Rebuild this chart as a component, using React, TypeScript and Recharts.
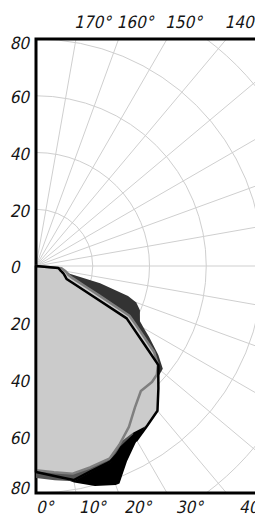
import React from 'react';
import { RadarChart, Radar, PolarGrid, PolarAngleAxis, PolarRadiusAxis } from 'recharts';

// ---- data (angle in degrees from the downward axis, radius in chart units) ----
const ANGLES = [0, 5, 10, 15, 20, 21, 25, 30, 35, 40, 45, 48, 51, 54, 58, 60, 62, 65, 67, 70, 72, 75, 77, 80, 85, 90];
const BLACK_FILL = [72.0, 74.0, 77.5, 80.3, 82.1, 82.1, 75.9, 71.0, 68.0, 66.0, 60.5, 57.5, 55.0, 47.0, 39.5, 36.5, 22.5, 14.4, 11.5, 10.8, 10.4, 9.8, 9.2, 8.5, 7.7, 0];
const DARK_FILL = [72.0, 73.0, 74.0, 73.0, 72.0, 72.0, 69.0, 65.0, 60.3, 57.0, 60.8, 58.1, 57.5, 53.3, 46.9, 43.9, 41.5, 40.4, 39.8, 37.6, 34.1, 23.4, 12.2, 10.9, 9.2, 0];
const MID_FILL = [74.7, 75.8, 77.0, 75.1, 74.1, 73.9, 70.2, 68.5, 60.3, 57.0, 57.3, 56.8, 54.8, 51.0, 43.0, 39.8, 37.0, 24.2, 19.5, 15.0, 13.0, 11.4, 11.0, 10.3, 8.7, 0];
const LIGHT_FILL = [71.5, 72.5, 73.8, 73.0, 72.2, 72.1, 69.0, 68.0, 68.5, 66.6, 61.0, 58.0, 55.5, 47.4, 39.8, 36.9, 22.9, 14.6, 11.7, 11.0, 10.6, 10.0, 9.4, 8.7, 7.9, 0];
const GRAY_OUTLINE = [72.0, 73.0, 74.3, 73.5, 72.7, 72.6, 69.5, 65.5, 60.8, 57.5, 57.8, 57.3, 55.3, 51.4, 43.3, 40.1, 37.3, 24.5, 19.8, 15.3, 13.3, 11.7, 11.3, 10.6, 9.0, 0];
const BLACK_OUTLINE = [72.6, 74.3, 76.6, 74.8, 73.8, 73.6, 71.3, 70.9, 68.5, 66.6, 61.0, 58.0, 55.5, 47.4, 39.8, 36.9, 22.9, 14.6, 11.7, 11.0, 10.6, 10.0, 9.4, 8.7, 7.9, 0];

const ANGLE_TICKS = [0, 10, 20, 30, 40, 50, 60, 70, 80, 90, 100, 110, 120, 130, 140, 150, 160, 170, 180];
const RADIUS_TICKS = [0, 20, 40, 60, 80, 100, 120];
const RADIUS_LABELS = [0, 20, 40, 60, 80];
const TOP_ANGLE_LABELS = [170, 160, 150, 140];
const BOTTOM_ANGLE_LABELS = [0, 10, 20, 30, 40];

const data = ANGLES.map((angle, i) => ({
  angle,
  blackFill: BLACK_FILL[i],
  darkFill: DARK_FILL[i],
  midFill: MID_FILL[i],
  lightFill: LIGHT_FILL[i],
  grayOutline: GRAY_OUTLINE[i],
  blackOutline: BLACK_OUTLINE[i],
}));

// ---- layout ----
const W = 255;
const H = 517;
const CX = 36;
const CY = 266;
const UNIT = 2.8375; // px per radial unit
const R_MAX = 120;
const FRAME_TOP = 39;
const FRAME_BOTTOM = 493;
const LABEL_X = 11;
const FONT = "'Liberation Sans Narrow', 'DejaVu Sans Condensed', 'Liberation Sans', sans-serif";
const TEXT_COLOR = '#151515';
const TEXT_STYLE: React.CSSProperties = {
  fontFamily: FONT,
  fontSize: 17,
  fill: TEXT_COLOR,
};

function SlantText({ x, y, dy, children }: { x: number; y: number; dy?: string; children: React.ReactNode }) {
  return (
    <text transform={`translate(${x},${y}) skewX(-13)`} x={0} y={0} dy={dy} textAnchor="start" style={TEXT_STYLE}>
      {children}
    </text>
  );
}

function RadiusTick(props: any) {
  const { y, payload } = props;
  const v = Number(payload && payload.value);
  if (!RADIUS_LABELS.includes(v)) return <g />;
  const up = Math.max(y + 1.5, FRAME_TOP + 4);
  const down = Math.min(2 * CY - y + 1.5, FRAME_BOTTOM - 5);
  return (
    <g>
      <SlantText x={LABEL_X} y={up} dy="0.35em">{v}</SlantText>
      {v !== 0 && <SlantText x={LABEL_X} y={down} dy="0.35em">{v}</SlantText>}
    </g>
  );
}

function AngleTick(props: any) {
  const { x, y, payload } = props;
  const v = Number(payload && payload.value);
  const dx = x - CX;
  const dy = y - CY;
  if (TOP_ANGLE_LABELS.includes(v) && dy < 0) {
    const t = (FRAME_TOP - CY) / dy;
    return <SlantText x={CX + dx * t - 2} y={28}>{`${v}°`}</SlantText>;
  }
  if (BOTTOM_ANGLE_LABELS.includes(v) && dy > 0) {
    const t = (508 - CY) / dy;
    return <SlantText x={CX + dx * t} y={513}>{`${v}°`}</SlantText>;
  }
  return <g />;
}

export default function App() {
  return (
    <div style={{ position: 'absolute', left: 0, top: 0, width: W, height: H, background: '#fff' }}>
      <RadarChart
        width={W}
        height={H}
        data={data}
        cx={CX}
        cy={CY}
        innerRadius={0}
        outerRadius={R_MAX * UNIT}
        startAngle={-90}
        endAngle={90}
        margin={{ top: 0, right: 0, bottom: 0, left: 0 }}
      >
        <defs>
          <clipPath id="plotClip">
            <rect x={CX} y={FRAME_TOP} width={W} height={FRAME_BOTTOM - FRAME_TOP} />
          </clipPath>
        </defs>
        <PolarGrid gridType="circle" stroke="#cfcfcf" strokeWidth={1} clipPath="url(#plotClip)" />
        <PolarAngleAxis
          dataKey="angle"
          type="number"
          domain={[0, 180]}
          ticks={ANGLE_TICKS}
          tickCount={19}
          axisLine={false}
          tickLine={false}
          tick={<AngleTick />}
        />
        <PolarRadiusAxis
          angle={90}
          type="number"
          domain={[0, R_MAX]}
          ticks={RADIUS_TICKS}
          tickCount={7}
          axisLine={false}
          tickLine={false}
          tick={<RadiusTick />}
        />
        <Radar dataKey="blackFill" fill="#000000" fillOpacity={1} stroke="none" dot={false} isAnimationActive={false} />
        <Radar dataKey="darkFill" fill="#333333" fillOpacity={1} stroke="none" dot={false} isAnimationActive={false} />
        <Radar dataKey="midFill" fill="#555555" fillOpacity={1} stroke="none" dot={false} isAnimationActive={false} />
        <Radar dataKey="lightFill" fill="#cbcbcb" fillOpacity={1} stroke="none" dot={false} isAnimationActive={false} />
        <Radar dataKey="grayOutline" fill="#cbcbcb" fillOpacity={1} stroke="#7f7f7f" strokeWidth={2.5} strokeLinejoin="round" dot={false} isAnimationActive={false} />
        <Radar dataKey="blackOutline" fill="none" stroke="#000000" strokeWidth={2.5} strokeLinejoin="round" dot={false} isAnimationActive={false} />
        <rect x={CX} y={FRAME_TOP} width={W * 2} height={FRAME_BOTTOM - FRAME_TOP} fill="none" stroke="#000" strokeWidth={3} />
      </RadarChart>
    </div>
  );
}
